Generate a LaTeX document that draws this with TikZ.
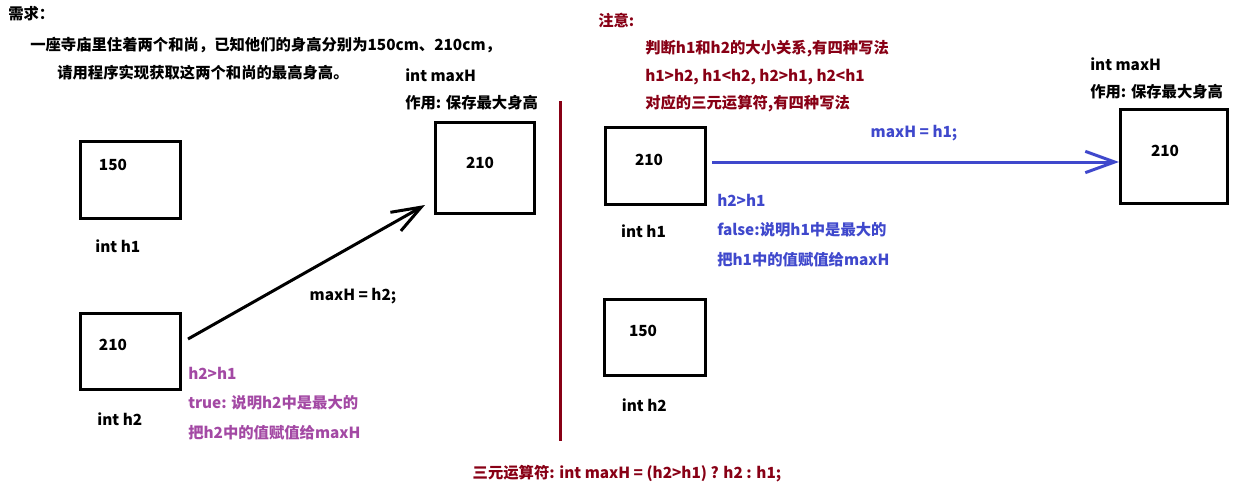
\documentclass[tikz,border=0pt]{standalone}
\usepackage{fontspec}
\setmainfont{Noto Sans CJK SC}
\usetikzlibrary{positioning,arrows.meta}
\definecolor{darkred}{HTML}{880015}
\definecolor{lilac}{HTML}{A349A4}
\definecolor{paintblue}{HTML}{3F48CC}

\begin{document}
\begin{tikzpicture}[x=0.75pt,y=-0.75pt,
font=\fontsize{11.5}{13}\selectfont\bfseries,
box/.style={draw,line width=2.25pt,rectangle,anchor=north west,inner sep=0pt},
txt/.style={anchor=west,inner sep=0pt},
arr/.style={line width=2.25pt,-{Straight Barb[length=22pt,width=16pt,line width=2.25pt]}}]
\useasboundingbox (0,0) rectangle (1237,497);

% demand
\node (need) [txt] at (8,14) {需求：};
\node (need1) [txt] at (30,45) {一座寺庙里住着两个和尚，已知他们的身高分别为150cm、210cm，};
\node (need2) [txt] at (57,73) {请用程序实现获取这两个和尚的最高身高。};

% left half
\node (lh1) [box,minimum width=75pt,minimum height=57.75pt,
    label={[label distance=11pt,xshift=-9.5pt]below:int h1}] at (79,140) {};
\node (lv1) at (113,165) {150};
\node (lh2) [box,minimum width=75pt,minimum height=57pt,
    label={[label distance=12.5pt,xshift=-8pt]below:int h2}] at (79,312) {};
\node (lv2) at (113,345) {210};
\node (lmax) [box,minimum width=74.25pt,minimum height=68.25pt] at (434,121) {};
\node (lv3) at (480,163) {210};
\node (lmaxa) [txt] at (405,75) {int maxH};
\node (lmaxb) [txt] at (405,103) {作用: 保存最大身高};
\coordinate (lfrom) at (188,339);
\coordinate (lto) at (425,205);
\draw [arr] (lfrom) -- (lto);
\node (lassign) at (353,296) {maxH = h2;};
\node (ltrue) [txt,text=lilac,align=left,anchor=north west] at (188,367)
    {h2>h1\\[9pt]true: 说明h2中是最大的\\[9pt]把h2中的值赋值给maxH};

% divider
\coordinate (dtop) at (560,101);
\coordinate (dbot) at (560,441);
\draw [darkred,line width=2.25pt] (dtop) -- (dbot);

% right half
\node (note) [txt,text=darkred] at (598,21) {注意:};
\node (note1) [txt,text=darkred] at (645,49) {判断h1和h2的大小关系,有四种写法};
\node (note2) [txt,text=darkred] at (645,77) {h1>h2, h1<h2, h2>h1, h2<h1};
\node (note3) [txt,text=darkred] at (645,104) {对应的三元运算符,有四种写法};

\node (rh1) [box,minimum width=75pt,minimum height=57.75pt,
    label={[label distance=10.5pt,xshift=-9pt]below:int h1}] at (604,126) {};
\node (rv1) at (649,160) {210};
\node (rh2) [box,minimum width=75.75pt,minimum height=57pt,
    label={[label distance=13pt,xshift=-8pt]below:int h2}] at (603,298) {};
\node (rv2) at (643,331) {150};
\node (rmax) [box,minimum width=80.25pt,minimum height=70.5pt] at (1119,108) {};
\node (rv3) at (1165,151) {210};
\node (rmaxa) [txt] at (1090,64) {int maxH};
\node (rmaxb) [txt] at (1090,92) {作用: 保存最大身高};
\draw [arr,paintblue] (rh1.east |- 0,162) ++(5,0) -- (rmax.west |- 0,162);
\node (rassign) [text=paintblue] at (914,133) {maxH = h1;};
\node (rfalse) [txt,text=paintblue,align=left,anchor=north west] at (717,194)
    {h2>h1\\[9pt]false:说明h1中是最大的\\[9pt]把h1中的值赋值给maxH};

% ternary
\node (tern) [text=darkred] at (627,474) {三元运算符: int maxH = (h2>h1) ? h2 : h1;};
\end{tikzpicture}
\end{document}
